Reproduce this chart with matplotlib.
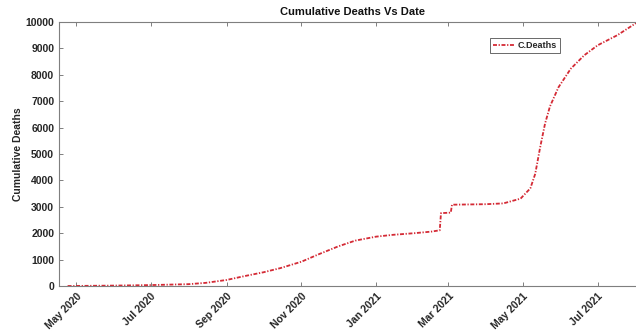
import matplotlib
matplotlib.use("Agg")
import matplotlib.pyplot as plt
import matplotlib.dates as mdates
import numpy as np
from datetime import datetime

plt.rcParams['font.family'] = ['Liberation Sans', 'DejaVu Sans']

# cumulative deaths read at selected dates
dates = ["2020-04-24", "2020-06-01", "2020-07-01", "2020-08-01", "2020-08-15",
         "2020-09-01", "2020-09-15", "2020-10-01", "2020-10-15", "2020-11-01",
         "2020-11-15", "2020-12-01", "2020-12-15", "2021-01-01", "2021-01-15",
         "2021-02-01", "2021-02-15", "2021-02-22", "2021-02-23", "2021-03-03",
         "2021-03-04", "2021-04-01", "2021-04-15", "2021-04-29", "2021-05-07",
         "2021-05-11", "2021-05-15", "2021-05-19", "2021-05-23", "2021-05-30",
         "2021-06-09", "2021-06-20", "2021-07-01", "2021-07-17", "2021-08-01",
         "2021-08-09"]
deaths = [0, 15, 35, 70, 120,
          230, 370, 520, 680, 920,
          1200, 1500, 1720, 1870, 1940,
          2000, 2060, 2110, 2760, 2780,
          3080, 3100, 3130, 3310, 3700,
          4250, 5250, 6150, 6800, 7530,
          8230, 8740, 9120, 9500, 9950,
          10100]

xticks = ["2020-05-01", "2020-07-01", "2020-09-01", "2020-11-01",
          "2021-01-01", "2021-03-01", "2021-05-01", "2021-07-01"]
yticks = [0, 1000, 2000, 3000, 4000, 5000, 6000, 7000, 8000, 9000, 10000]

x = [datetime.strptime(d, "%Y-%m-%d") for d in dates]

fig = plt.figure(figsize=(6.36, 3.34), dpi=100)
ax = fig.add_axes([0.0928, 0.1437, 0.922, 0.7903])

line, = ax.plot(x, deaths, linestyle='-.', color='#d42a35', linewidth=1.3, label='C.Deaths')
line.set_dashes((2.2, 0.9, 0.7, 0.9))

ax.set_xlim(datetime(2020, 4, 17), datetime(2021, 8, 9))
ax.set_ylim(0, 10000)
ax.set_xticks([datetime.strptime(d, "%Y-%m-%d") for d in xticks])
ax.xaxis.set_major_formatter(mdates.DateFormatter("%b %Y"))
ax.set_yticks(yticks)

for lbl in ax.get_xticklabels():
    lbl.set_rotation(45)
    lbl.set_ha('right')
    lbl.set_rotation_mode('anchor')

ax.tick_params(axis='both', direction='in', length=3, width=0.7, color='#7f7f7f',
               labelsize=7.5, labelcolor='#262626', top=True, right=True)
for lbl in ax.get_xticklabels() + ax.get_yticklabels():
    lbl.set_fontweight('bold')
for sp in ax.spines.values():
    sp.set_color('#7f7f7f')
    sp.set_linewidth(0.8)

ax.set_ylabel('Cumulative Deaths', fontsize=7.5, fontweight='bold', color='#262626', labelpad=2)
ax.set_title('Cumulative Deaths Vs Date', fontsize=8, fontweight='bold', color='#111111', pad=5)

leg = ax.legend(loc='upper left', bbox_to_anchor=(0.735, 0.94), fontsize=6.5,
                frameon=True, fancybox=False, handlelength=2.4, handletextpad=0.3,
                borderpad=0.35, borderaxespad=0)
leg.get_frame().set_edgecolor('#262626')
leg.get_frame().set_linewidth(0.6)
for t in leg.get_texts():
    t.set_fontweight('bold')
    t.set_color('#262626')

fig.savefig("out.png", dpi=100)
